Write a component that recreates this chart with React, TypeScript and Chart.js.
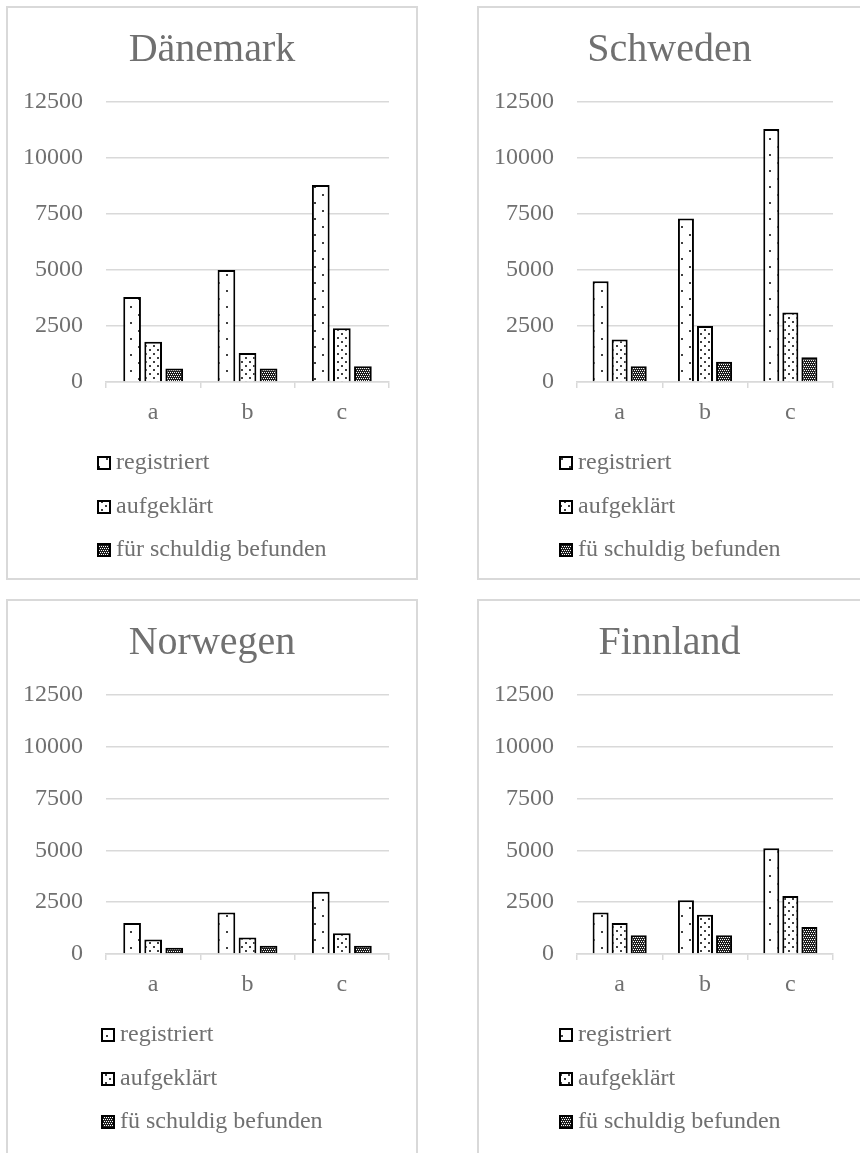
import React, { useEffect, useRef } from "react";
import { Chart, registerables } from "chart.js";

Chart.register(...registerables);

// Categories and tick values shared by all four panels
const categories = ["a", "b", "c"];
const yTicks = [0, 2500, 5000, 7500, 10000, 12500];

// Series names (the three later panels spell the last one "fü")
const seriesLabelsLong = ["registriert", "aufgeklärt", "für schuldig befunden"];
const seriesLabelsShort = ["registriert", "aufgeklärt", "fü schuldig befunden"];

// Dänemark
const dkRegistriert = [3800, 5000, 8800];
const dkAufgeklaert = [1800, 1300, 2400];
const dkSchuldig = [600, 600, 700];

// Schweden
const seRegistriert = [4500, 7300, 11300];
const seAufgeklaert = [1900, 2500, 3100];
const seSchuldig = [700, 900, 1100];

// Norwegen
const noRegistriert = [1500, 2000, 3000];
const noAufgeklaert = [700, 800, 1000];
const noSchuldig = [300, 400, 400];

// Finnland
const fiRegistriert = [2000, 2600, 5100];
const fiAufgeklaert = [1500, 1900, 2800];
const fiSchuldig = [900, 900, 1300];

const FONT = '"Liberation Serif", "DejaVu Serif", serif';
const TEXT_COLOR = "#707070";
const GRID_COLOR = "#d9d9d9";

type PatternKind = "sparse" | "medium" | "dense";

function makePattern(kind: PatternKind): CanvasPattern | string {
  const c = document.createElement("canvas");
  const size = kind === "sparse" ? 16 : kind === "medium" ? 8 : 4;
  c.width = size;
  c.height = size;
  const g = c.getContext("2d");
  if (!g) return "#ffffff";
  if (kind === "sparse") {
    g.fillStyle = "#ffffff";
    g.fillRect(0, 0, size, size);
    g.fillStyle = "#404040";
    g.fillRect(2, 2, 2, 2);
    g.fillRect(10, 10, 2, 2);
  } else if (kind === "medium") {
    g.fillStyle = "#ffffff";
    g.fillRect(0, 0, size, size);
    g.fillStyle = "#404040";
    g.fillRect(1, 1, 2, 2);
    g.fillRect(5, 5, 2, 2);
  } else {
    g.fillStyle = "#1e1e1e";
    g.fillRect(0, 0, size, size);
    g.fillStyle = "#ffffff";
    g.fillRect(0, 0, 1, 1);
    g.fillRect(2, 0, 1, 1);
    g.fillRect(1, 2, 1, 1);
    g.fillRect(3, 2, 1, 1);
  }
  return g.createPattern(c, "repeat") || "#ffffff";
}

// Panel title centred on the whole canvas, plus a vertical legend below the x axis
const panelDecorations = {
  id: "panelDecorations",
  afterDraw(chart: any, _args: any, opts: any) {
    const { ctx, chartArea, width } = chart;
    ctx.save();

    ctx.font = `40px ${FONT}`;
    ctx.fillStyle = TEXT_COLOR;
    ctx.textAlign = "center";
    ctx.textBaseline = "alphabetic";
    ctx.fillText(opts.title || "", width / 2, 53);

    const datasets = chart.data.datasets;
    const rowOffsets = [81, 125, 168];
    const box = 14;
    const gap = 5;
    ctx.font = `24px ${FONT}`;
    let maxW = 0;
    datasets.forEach((ds: any) => {
      maxW = Math.max(maxW, ctx.measureText(ds.label).width);
    });
    const blockW = box + gap + maxW;
    const startX = Math.round(width / 2 - blockW / 2);
    datasets.forEach((ds: any, i: number) => {
      const cy = chartArea.bottom + rowOffsets[i];
      const top = Math.round(cy - box / 2);
      ctx.fillStyle = ds.backgroundColor;
      ctx.fillRect(startX, top, box, box);
      ctx.strokeStyle = "#000000";
      ctx.lineWidth = 2;
      ctx.strokeRect(startX + 1, top + 1, box - 2, box - 2);
      ctx.fillStyle = TEXT_COLOR;
      ctx.textBaseline = "middle";
      ctx.textAlign = "left";
      ctx.fillText(ds.label, startX + box + gap, cy);
    });
    ctx.restore();
  },
};

type PanelProps = {
  title: string;
  left: number;
  top: number;
  width: number;
  height: number;
  canvasHeight: number;
  labels: string[];
  registriert: number[];
  aufgeklaert: number[];
  schuldig: number[];
};

function Panel(props: PanelProps) {
  const ref = useRef<HTMLCanvasElement | null>(null);
  const cw = props.width - 4;
  const ch = props.canvasHeight;

  useEffect(() => {
    if (!ref.current) return;
    const patterns = [makePattern("sparse"), makePattern("medium"), makePattern("dense")];
    const values = [props.registriert, props.aufgeklaert, props.schuldig];
    const chart = new Chart(ref.current, {
      type: "bar",
      data: {
        labels: categories,
        datasets: values.map((v, i) => ({
          label: props.labels[i],
          data: v,
          backgroundColor: patterns[i] as any,
          borderColor: "#000000",
          borderWidth: 2,
          borderSkipped: "start",
          categoryPercentage: 0.67,
          barPercentage: 0.84,
        })),
      },
      options: {
        responsive: false,
        animation: false,
        layout: { padding: { left: 0, right: 27, top: 94, bottom: 136 } },
        plugins: {
          legend: { display: false },
          tooltip: { enabled: false },
          title: { display: false },
          panelDecorations: { title: props.title },
        },
        scales: {
          x: {
            grid: {
              display: true,
              drawOnChartArea: false,
              drawTicks: true,
              tickLength: 6,
              color: GRID_COLOR,
              lineWidth: 1.5,
            },
            border: { display: true, color: GRID_COLOR, width: 1.5 },
            ticks: {
              color: TEXT_COLOR,
              font: { family: FONT, size: 24 },
              padding: 10,
            },
            afterFit: (s: any) => {
              s.height = 60;
            },
          },
          y: {
            min: yTicks[0],
            max: yTicks[yTicks.length - 1],
            afterBuildTicks: (s: any) => {
              s.ticks = yTicks.map((v) => ({ value: v }));
            },
            ticks: {
              color: TEXT_COLOR,
              font: { family: FONT, size: 24 },
              padding: 23,
              callback: (v: any) => String(v),
            },
            grid: { color: GRID_COLOR, lineWidth: 1.5, drawTicks: false },
            border: { display: false },
            afterFit: (s: any) => {
              s.width = 98;
            },
          },
        },
      },
      plugins: [panelDecorations],
    } as any);
    return () => chart.destroy();
  }, []);

  return (
    <div
      style={{
        position: "absolute",
        left: props.left,
        top: props.top,
        width: props.width,
        height: props.height,
        border: `2px solid ${GRID_COLOR}`,
        boxSizing: "border-box",
        background: "#ffffff",
      }}
    >
      <canvas ref={ref} width={cw} height={ch} style={{ display: "block" }} />
    </div>
  );
}

export default function App() {
  return (
    <div
      style={{
        position: "fixed",
        left: 0,
        top: 0,
        width: 860,
        height: 1153,
        overflow: "hidden",
        background: "#ffffff",
      }}
    >
      <Panel
        title="Dänemark"
        left={6}
        top={6}
        width={412}
        height={574}
        canvasHeight={570}
        labels={seriesLabelsLong}
        registriert={dkRegistriert}
        aufgeklaert={dkAufgeklaert}
        schuldig={dkSchuldig}
      />
      <Panel
        title="Schweden"
        left={477}
        top={6}
        width={385}
        height={574}
        canvasHeight={570}
        labels={seriesLabelsShort}
        registriert={seRegistriert}
        aufgeklaert={seAufgeklaert}
        schuldig={seSchuldig}
      />
      <Panel
        title="Norwegen"
        left={6}
        top={599}
        width={412}
        height={560}
        canvasHeight={549}
        labels={seriesLabelsShort}
        registriert={noRegistriert}
        aufgeklaert={noAufgeklaert}
        schuldig={noSchuldig}
      />
      <Panel
        title="Finnland"
        left={477}
        top={599}
        width={385}
        height={560}
        canvasHeight={549}
        labels={seriesLabelsShort}
        registriert={fiRegistriert}
        aufgeklaert={fiAufgeklaert}
        schuldig={fiSchuldig}
      />
    </div>
  );
}
